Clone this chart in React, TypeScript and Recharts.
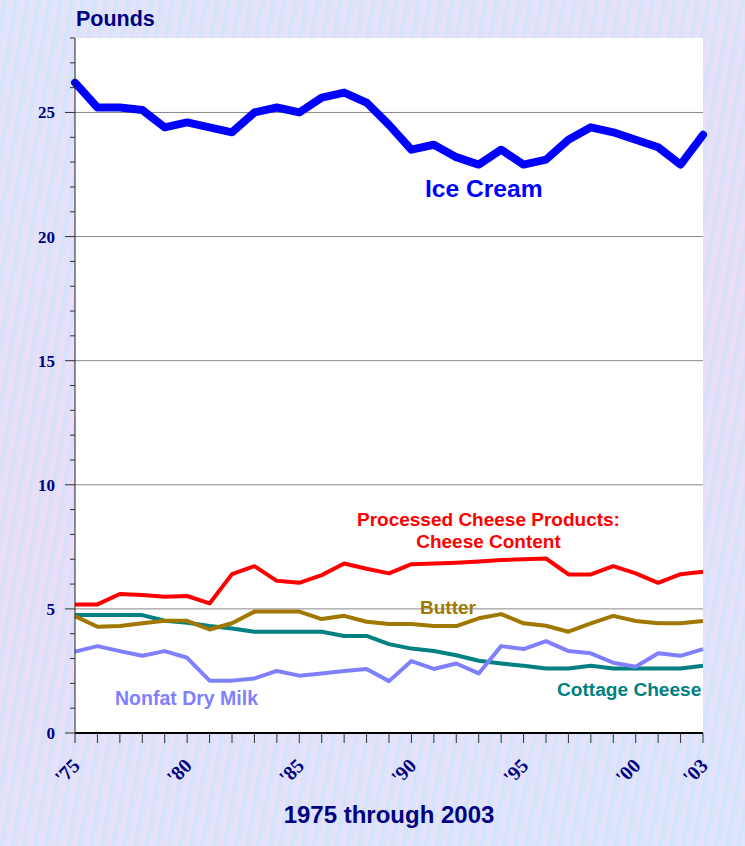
import { LineChart, Line, XAxis, YAxis, CartesianGrid } from 'recharts'

const years = [
  1975, 1976, 1977, 1978, 1979, 1980, 1981, 1982, 1983, 1984, 1985, 1986, 1987, 1988, 1989,
  1990, 1991, 1992, 1993, 1994, 1995, 1996, 1997, 1998, 1999, 2000, 2001, 2002, 2003,
]
const iceCream = [
  26.2, 25.2, 25.2, 25.1, 24.4, 24.6, 24.4, 24.2, 25.0, 25.2, 25.0, 25.6, 25.8, 25.4, 24.5,
  23.5, 23.7, 23.2, 22.9, 23.5, 22.9, 23.1, 23.9, 24.4, 24.2, 23.9, 23.6, 22.9, 24.1,
]
const processedCheese = [
  5.18, 5.18, 5.6, 5.56, 5.49, 5.52, 5.22, 6.4, 6.72, 6.13, 6.05, 6.36, 6.83, 6.62, 6.43,
  6.8, 6.83, 6.86, 6.91, 6.97, 7.0, 7.03, 6.39, 6.39, 6.72, 6.43, 6.05, 6.4, 6.5,
]
const butter = [
  4.71, 4.28, 4.31, 4.42, 4.52, 4.52, 4.17, 4.42, 4.89, 4.89, 4.89, 4.59, 4.72, 4.48, 4.39,
  4.39, 4.31, 4.31, 4.62, 4.79, 4.42, 4.32, 4.08, 4.42, 4.72, 4.51, 4.42, 4.42, 4.51,
]
const cottageCheese = [
  4.75, 4.75, 4.75, 4.75, 4.52, 4.44, 4.31, 4.21, 4.08, 4.08, 4.08, 4.08, 3.91, 3.91, 3.58,
  3.4, 3.3, 3.13, 2.91, 2.8, 2.71, 2.6, 2.6, 2.71, 2.6, 2.6, 2.6, 2.6, 2.71,
]
const nonfatDryMilk = [
  3.28, 3.5, 3.3, 3.11, 3.3, 3.03, 2.11, 2.11, 2.2, 2.5, 2.31, 2.4, 2.5, 2.58, 2.09,
  2.9, 2.58, 2.8, 2.4, 3.5, 3.38, 3.7, 3.3, 3.21, 2.83, 2.67, 3.21, 3.11, 3.38,
]
const labeledYears = [1975, 1980, 1985, 1990, 1995, 2000, 2003]
const yTicks = Array.from({ length: 29 }, (_, i) => i)

const rows = years.map((year, i) => ({
  year,
  iceCream: iceCream[i],
  processedCheese: processedCheese[i],
  butter: butter[i],
  cottageCheese: cottageCheese[i],
  nonfatDryMilk: nonfatDryMilk[i],
}))

const NAVY = '#000080'
const SANS = '"Liberation Sans", Arial, sans-serif'
const SERIF = '"Liberation Serif", "Times New Roman", serif'

const YTick = ({ x, y, payload }: any) => {
  const major = payload.value % 5 === 0
  return (
    <g>
      <line x1={x} x2={x - (major ? 10 : 5)} y1={y} y2={y} stroke="#333" strokeWidth={1} />
      {major && (
        <text x={x - 20} y={y} dy={6} textAnchor="end" fill={NAVY} fontFamily={SERIF}
          fontWeight="bold" fontSize={17}>
          {payload.value}
        </text>
      )}
    </g>
  )
}

const yearLabel = (v: number) =>
  labeledYears.includes(v) ? "'" + String(v).slice(2) : ''

const note = (text: string, color: string, left: number, top: number, size = 19) => (
  <div style={{
    position: 'absolute', left, top, color, fontFamily: SANS, fontWeight: 'bold',
    fontSize: size, whiteSpace: 'nowrap', lineHeight: 1,
  }}>{text}</div>
)

export default function App() {
  return (
    <div style={{
      position: 'absolute', left: 0, top: 0, width: 745, height: 846, overflow: 'hidden',
      background:
        'repeating-linear-gradient(100deg, rgba(255,220,245,0.35) 0 3px, rgba(200,225,255,0.3) 3px 7px, rgba(235,225,250,0.3) 7px 11px), linear-gradient(160deg, #d9e6fa, #e3ddf6 50%, #d6e7fb)',
    }}>
      <LineChart width={745} height={846} data={rows}
        margin={{ top: 38, right: 42, bottom: 0, left: 0 }}>
        <CartesianGrid fill="#ffffff" vertical={false} stroke="#888" strokeWidth={1}
          horizontalValues={[5, 10, 15, 20, 25]} />
        <XAxis dataKey="year" type="number" domain={[1975, 2003]} ticks={years}
          interval={0} height={113} tickFormatter={yearLabel}
          tick={{ angle: -45, textAnchor: 'end', fill: NAVY, fontFamily: SERIF,
            fontWeight: 'bold', fontSize: 20, dx: -4, dy: 12 }}
          tickLine={{ stroke: '#333', strokeWidth: 1 }} tickSize={10} tickMargin={2}
          axisLine={{ stroke: '#000', strokeWidth: 2 }} />
        <YAxis type="number" domain={[0, 28]} ticks={yTicks} interval={0} width={75}
          tick={<YTick />} tickLine={false} tickSize={0} tickMargin={0} stroke="#222" />
        <Line dataKey="iceCream" stroke="#0000ff" strokeWidth={8} dot={false}
          strokeLinejoin="round" strokeLinecap="round" isAnimationActive={false} />
        <Line dataKey="cottageCheese" stroke="#008080" strokeWidth={4} dot={false}
          strokeLinejoin="round" isAnimationActive={false} />
        <Line dataKey="nonfatDryMilk" stroke="#8080ff" strokeWidth={4} dot={false}
          strokeLinejoin="round" isAnimationActive={false} />
        <Line dataKey="butter" stroke="#a07800" strokeWidth={4} dot={false}
          strokeLinejoin="round" isAnimationActive={false} />
        <Line dataKey="processedCheese" stroke="#ff0000" strokeWidth={4} dot={false}
          strokeLinejoin="round" isAnimationActive={false} />
      </LineChart>
      {note('Pounds', NAVY, 76, 9, 21.5)}
      {note('Ice Cream', '#0000ff', 425, 177, 24.6)}
      {note('Processed Cheese Products:', '#ff0000', 357, 510)}
      <div style={{
        position: 'absolute', left: 357, width: 263, top: 532, textAlign: 'center',
        color: '#ff0000', fontFamily: SANS, fontWeight: 'bold', fontSize: 19, lineHeight: 1,
      }}>Cheese Content</div>
      {note('Butter', '#a07800', 420, 598)}
      {note('Nonfat Dry Milk', '#8080ff', 115, 689, 19.5)}
      {note('Cottage Cheese', '#008080', 557, 680, 19.1)}
      <div style={{
        position: 'absolute', left: 0, width: 778, top: 803, textAlign: 'center',
        color: NAVY, fontFamily: SANS, fontWeight: 'bold', fontSize: 24, lineHeight: 1,
      }}>1975 through 2003</div>
    </div>
  )
}
